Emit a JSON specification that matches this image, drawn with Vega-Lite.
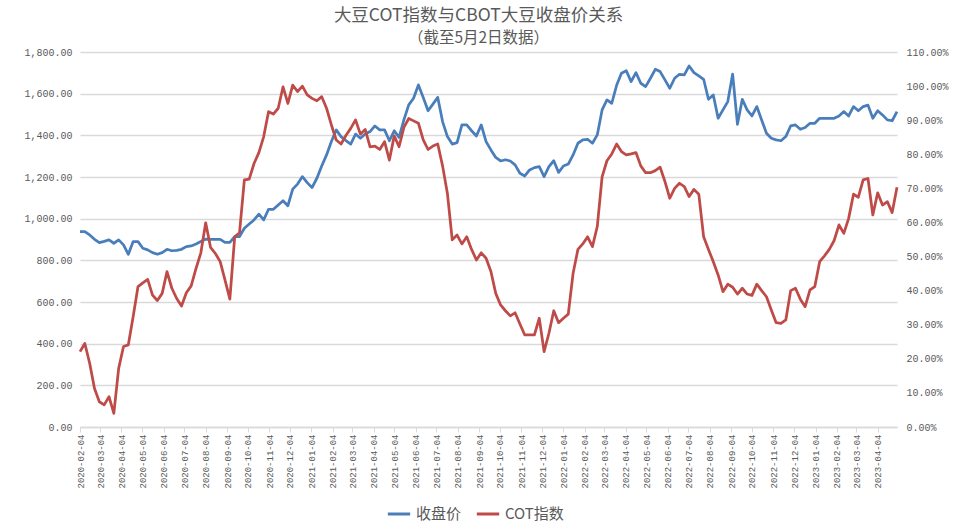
{
  "$schema": "https://vega.github.io/schema/vega-lite/v6.json",
  "width": 817,
  "height": 375,
  "autosize": {"type": "none"},
  "padding": {"left": 80, "top": 52, "right": 58, "bottom": 102},
  "background": "white",
  "title": {
    "text": "大豆COT指数与CBOT大豆收盘价关系",
    "subtitle": "（截至5月2日数据）",
    "anchor": "middle",
    "frame": "group",
    "offset": 1,
    "dx": -10,
    "font": "Noto Sans CJK SC",
    "fontSize": 17.5,
    "lineHeight": 19,
    "fontWeight": "normal",
    "color": "#595959",
    "subtitleFont": "Noto Sans CJK SC",
    "subtitleFontSize": 15.5,
    "subtitleLineHeight": 17,
    "subtitleColor": "#595959",
    "subtitlePadding": 6
  },
  "data": {
    "values": [
      {"date":"2020-02-04","price":938,"cot":0.221},
      {"date":"2020-02-11","price":938,"cot":0.245},
      {"date":"2020-02-18","price":922,"cot":0.187},
      {"date":"2020-02-25","price":901,"cot":0.113},
      {"date":"2020-03-03","price":885,"cot":0.074},
      {"date":"2020-03-10","price":891,"cot":0.065},
      {"date":"2020-03-17","price":898,"cot":0.089},
      {"date":"2020-03-24","price":882,"cot":0.040},
      {"date":"2020-03-31","price":898,"cot":0.172},
      {"date":"2020-04-07","price":874,"cot":0.236},
      {"date":"2020-04-14","price":829,"cot":0.241},
      {"date":"2020-04-21","price":890,"cot":0.324},
      {"date":"2020-04-28","price":890,"cot":0.412},
      {"date":"2020-05-05","price":858,"cot":0.423},
      {"date":"2020-05-12","price":850,"cot":0.433},
      {"date":"2020-05-19","price":837,"cot":0.387},
      {"date":"2020-05-26","price":829,"cot":0.371},
      {"date":"2020-06-02","price":837,"cot":0.392},
      {"date":"2020-06-09","price":853,"cot":0.456},
      {"date":"2020-06-16","price":846,"cot":0.407},
      {"date":"2020-06-23","price":848,"cot":0.377},
      {"date":"2020-06-30","price":853,"cot":0.355},
      {"date":"2020-07-07","price":866,"cot":0.394},
      {"date":"2020-07-14","price":869,"cot":0.414},
      {"date":"2020-07-21","price":878,"cot":0.465},
      {"date":"2020-07-28","price":890,"cot":0.511},
      {"date":"2020-08-04","price":902,"cot":0.599},
      {"date":"2020-08-11","price":901,"cot":0.527},
      {"date":"2020-08-18","price":901,"cot":0.509},
      {"date":"2020-08-25","price":901,"cot":0.485},
      {"date":"2020-09-01","price":886,"cot":0.431},
      {"date":"2020-09-08","price":886,"cot":0.375},
      {"date":"2020-09-15","price":914,"cot":0.558},
      {"date":"2020-09-22","price":914,"cot":0.570},
      {"date":"2020-09-29","price":954,"cot":0.725},
      {"date":"2020-10-06","price":974,"cot":0.727},
      {"date":"2020-10-13","price":994,"cot":0.773},
      {"date":"2020-10-20","price":1022,"cot":0.805},
      {"date":"2020-10-27","price":994,"cot":0.852},
      {"date":"2020-11-03","price":1045,"cot":0.925},
      {"date":"2020-11-10","price":1045,"cot":0.918},
      {"date":"2020-11-17","price":1066,"cot":0.935},
      {"date":"2020-11-24","price":1086,"cot":0.998},
      {"date":"2020-12-01","price":1062,"cot":0.949},
      {"date":"2020-12-08","price":1142,"cot":1.003},
      {"date":"2020-12-15","price":1166,"cot":0.984},
      {"date":"2020-12-22","price":1202,"cot":1.000},
      {"date":"2020-12-29","price":1173,"cot":0.974},
      {"date":"2021-01-05","price":1149,"cot":0.964},
      {"date":"2021-01-12","price":1194,"cot":0.957},
      {"date":"2021-01-19","price":1253,"cot":0.969},
      {"date":"2021-01-26","price":1306,"cot":0.935},
      {"date":"2021-02-02","price":1370,"cot":0.886},
      {"date":"2021-02-09","price":1426,"cot":0.842},
      {"date":"2021-02-16","price":1394,"cot":0.830},
      {"date":"2021-02-23","price":1375,"cot":0.855},
      {"date":"2021-03-02","price":1358,"cot":0.876},
      {"date":"2021-03-09","price":1406,"cot":0.901},
      {"date":"2021-03-16","price":1386,"cot":0.859},
      {"date":"2021-03-23","price":1406,"cot":0.873},
      {"date":"2021-03-30","price":1418,"cot":0.822},
      {"date":"2021-04-06","price":1445,"cot":0.824},
      {"date":"2021-04-13","price":1426,"cot":0.814},
      {"date":"2021-04-20","price":1426,"cot":0.837},
      {"date":"2021-04-27","price":1374,"cot":0.783},
      {"date":"2021-05-04","price":1422,"cot":0.854},
      {"date":"2021-05-11","price":1390,"cot":0.822},
      {"date":"2021-05-18","price":1474,"cot":0.879},
      {"date":"2021-05-25","price":1546,"cot":0.905},
      {"date":"2021-06-01","price":1578,"cot":0.898},
      {"date":"2021-06-08","price":1642,"cot":0.891},
      {"date":"2021-06-15","price":1582,"cot":0.842},
      {"date":"2021-06-22","price":1518,"cot":0.814},
      {"date":"2021-06-29","price":1550,"cot":0.824},
      {"date":"2021-07-06","price":1582,"cot":0.830},
      {"date":"2021-07-13","price":1466,"cot":0.766},
      {"date":"2021-07-20","price":1394,"cot":0.685},
      {"date":"2021-07-27","price":1358,"cot":0.549},
      {"date":"2021-08-03","price":1365,"cot":0.563},
      {"date":"2021-08-10","price":1450,"cot":0.537},
      {"date":"2021-08-17","price":1450,"cot":0.558},
      {"date":"2021-08-24","price":1422,"cot":0.521},
      {"date":"2021-08-31","price":1397,"cot":0.490},
      {"date":"2021-09-07","price":1450,"cot":0.511},
      {"date":"2021-09-14","price":1370,"cot":0.495},
      {"date":"2021-09-21","price":1330,"cot":0.456},
      {"date":"2021-09-28","price":1294,"cot":0.392},
      {"date":"2021-10-05","price":1277,"cot":0.358},
      {"date":"2021-10-12","price":1283,"cot":0.341},
      {"date":"2021-10-19","price":1277,"cot":0.326},
      {"date":"2021-10-26","price":1258,"cot":0.335},
      {"date":"2021-11-02","price":1218,"cot":0.302},
      {"date":"2021-11-09","price":1205,"cot":0.270},
      {"date":"2021-11-16","price":1234,"cot":0.270},
      {"date":"2021-11-23","price":1245,"cot":0.270},
      {"date":"2021-11-30","price":1250,"cot":0.319},
      {"date":"2021-12-07","price":1202,"cot":0.221},
      {"date":"2021-12-14","price":1250,"cot":0.275},
      {"date":"2021-12-21","price":1278,"cot":0.341},
      {"date":"2021-12-28","price":1222,"cot":0.306},
      {"date":"2022-01-04","price":1253,"cot":0.319},
      {"date":"2022-01-11","price":1262,"cot":0.331},
      {"date":"2022-01-18","price":1306,"cot":0.451},
      {"date":"2022-01-25","price":1362,"cot":0.521},
      {"date":"2022-02-01","price":1378,"cot":0.537},
      {"date":"2022-02-08","price":1381,"cot":0.558},
      {"date":"2022-02-15","price":1362,"cot":0.529},
      {"date":"2022-02-22","price":1402,"cot":0.588},
      {"date":"2022-03-01","price":1522,"cot":0.734},
      {"date":"2022-03-08","price":1570,"cot":0.781},
      {"date":"2022-03-15","price":1554,"cot":0.801},
      {"date":"2022-03-22","price":1640,"cot":0.830},
      {"date":"2022-03-29","price":1698,"cot":0.808},
      {"date":"2022-04-05","price":1710,"cot":0.798},
      {"date":"2022-04-12","price":1658,"cot":0.801},
      {"date":"2022-04-19","price":1701,"cot":0.805},
      {"date":"2022-04-26","price":1650,"cot":0.766},
      {"date":"2022-05-03","price":1634,"cot":0.746},
      {"date":"2022-05-10","price":1674,"cot":0.746},
      {"date":"2022-05-17","price":1717,"cot":0.752},
      {"date":"2022-05-24","price":1706,"cot":0.762},
      {"date":"2022-05-31","price":1666,"cot":0.720},
      {"date":"2022-06-07","price":1626,"cot":0.671},
      {"date":"2022-06-14","price":1674,"cot":0.700},
      {"date":"2022-06-21","price":1693,"cot":0.715},
      {"date":"2022-06-28","price":1690,"cot":0.705},
      {"date":"2022-07-05","price":1733,"cot":0.676},
      {"date":"2022-07-12","price":1701,"cot":0.697},
      {"date":"2022-07-19","price":1685,"cot":0.683},
      {"date":"2022-07-26","price":1669,"cot":0.558},
      {"date":"2022-08-02","price":1573,"cot":0.521},
      {"date":"2022-08-09","price":1594,"cot":0.485},
      {"date":"2022-08-16","price":1482,"cot":0.446},
      {"date":"2022-08-23","price":1522,"cot":0.397},
      {"date":"2022-08-30","price":1562,"cot":0.419},
      {"date":"2022-09-06","price":1694,"cot":0.410},
      {"date":"2022-09-13","price":1453,"cot":0.390},
      {"date":"2022-09-20","price":1573,"cot":0.407},
      {"date":"2022-09-27","price":1522,"cot":0.390},
      {"date":"2022-10-04","price":1493,"cot":0.386},
      {"date":"2022-10-11","price":1538,"cot":0.419},
      {"date":"2022-10-18","price":1474,"cot":0.400},
      {"date":"2022-10-25","price":1410,"cot":0.382},
      {"date":"2022-11-01","price":1386,"cot":0.343},
      {"date":"2022-11-08","price":1378,"cot":0.306},
      {"date":"2022-11-15","price":1374,"cot":0.304},
      {"date":"2022-11-22","price":1394,"cot":0.314},
      {"date":"2022-11-29","price":1445,"cot":0.400},
      {"date":"2022-12-06","price":1450,"cot":0.407},
      {"date":"2022-12-13","price":1429,"cot":0.375},
      {"date":"2022-12-20","price":1438,"cot":0.353},
      {"date":"2022-12-27","price":1458,"cot":0.402},
      {"date":"2023-01-03","price":1458,"cot":0.412},
      {"date":"2023-01-10","price":1482,"cot":0.485},
      {"date":"2023-01-17","price":1482,"cot":0.502},
      {"date":"2023-01-24","price":1482,"cot":0.521},
      {"date":"2023-01-31","price":1482,"cot":0.547},
      {"date":"2023-02-07","price":1493,"cot":0.593},
      {"date":"2023-02-14","price":1514,"cot":0.568},
      {"date":"2023-02-21","price":1493,"cot":0.612},
      {"date":"2023-02-28","price":1538,"cot":0.683},
      {"date":"2023-03-07","price":1518,"cot":0.674},
      {"date":"2023-03-14","price":1538,"cot":0.725},
      {"date":"2023-03-21","price":1545,"cot":0.729},
      {"date":"2023-03-28","price":1482,"cot":0.622},
      {"date":"2023-04-04","price":1518,"cot":0.687},
      {"date":"2023-04-11","price":1498,"cot":0.651},
      {"date":"2023-04-18","price":1474,"cot":0.661},
      {"date":"2023-04-25","price":1470,"cot":0.629},
      {"date":"2023-05-02","price":1514,"cot":0.703}
    ]
  },
  "encoding": {
    "x": {
      "field": "date",
      "type": "temporal",
      "title": null,
      "scale": {
        "type": "utc",
        "nice": false,
        "domain": [
          {"year": 2020, "month": 2, "date": 4, "utc": true},
          {"year": 2023, "month": 5, "date": 2, "utc": true}
        ]
      },
      "axis": {
        "labelExpr": "utcFormat(datum.value, '%Y-%m-%d')",
        "labelAngle": -90,
        "labelFont": "Liberation Mono",
        "labelFontSize": 9,
        "labelColor": "#595959",
        "labelPadding": 2,
        "labelOverlap": false,
        "labelFlush": false,
        "labelBound": false,
        "grid": false,
        "domainColor": "#d9d9d9",
        "domainWidth": 1.5,
        "tickColor": "#d9d9d9",
        "tickWidth": 1,
        "tickSize": 5,
        "values": [
          {"year": 2020, "month": 2, "date": 4, "utc": true},
          {"year": 2020, "month": 3, "date": 4, "utc": true},
          {"year": 2020, "month": 4, "date": 4, "utc": true},
          {"year": 2020, "month": 5, "date": 4, "utc": true},
          {"year": 2020, "month": 6, "date": 4, "utc": true},
          {"year": 2020, "month": 7, "date": 4, "utc": true},
          {"year": 2020, "month": 8, "date": 4, "utc": true},
          {"year": 2020, "month": 9, "date": 4, "utc": true},
          {"year": 2020, "month": 10, "date": 4, "utc": true},
          {"year": 2020, "month": 11, "date": 4, "utc": true},
          {"year": 2020, "month": 12, "date": 4, "utc": true},
          {"year": 2021, "month": 1, "date": 4, "utc": true},
          {"year": 2021, "month": 2, "date": 4, "utc": true},
          {"year": 2021, "month": 3, "date": 4, "utc": true},
          {"year": 2021, "month": 4, "date": 4, "utc": true},
          {"year": 2021, "month": 5, "date": 4, "utc": true},
          {"year": 2021, "month": 6, "date": 4, "utc": true},
          {"year": 2021, "month": 7, "date": 4, "utc": true},
          {"year": 2021, "month": 8, "date": 4, "utc": true},
          {"year": 2021, "month": 9, "date": 4, "utc": true},
          {"year": 2021, "month": 10, "date": 4, "utc": true},
          {"year": 2021, "month": 11, "date": 4, "utc": true},
          {"year": 2021, "month": 12, "date": 4, "utc": true},
          {"year": 2022, "month": 1, "date": 4, "utc": true},
          {"year": 2022, "month": 2, "date": 4, "utc": true},
          {"year": 2022, "month": 3, "date": 4, "utc": true},
          {"year": 2022, "month": 4, "date": 4, "utc": true},
          {"year": 2022, "month": 5, "date": 4, "utc": true},
          {"year": 2022, "month": 6, "date": 4, "utc": true},
          {"year": 2022, "month": 7, "date": 4, "utc": true},
          {"year": 2022, "month": 8, "date": 4, "utc": true},
          {"year": 2022, "month": 9, "date": 4, "utc": true},
          {"year": 2022, "month": 10, "date": 4, "utc": true},
          {"year": 2022, "month": 11, "date": 4, "utc": true},
          {"year": 2022, "month": 12, "date": 4, "utc": true},
          {"year": 2023, "month": 1, "date": 4, "utc": true},
          {"year": 2023, "month": 2, "date": 4, "utc": true},
          {"year": 2023, "month": 3, "date": 4, "utc": true},
          {"year": 2023, "month": 4, "date": 4, "utc": true}
        ]
      }
    }
  },
  "layer": [
    {
      "mark": {"type": "line", "strokeWidth": 2.75, "strokeJoin": "round"},
      "encoding": {
        "y": {
          "field": "price",
          "type": "quantitative",
          "title": null,
          "scale": {"domain": [0, 1800], "nice": false, "zero": true},
          "axis": {
            "orient": "left",
            "values": [0, 200, 400, 600, 800, 1000, 1200, 1400, 1600, 1800],
            "format": ",.2f",
            "labelFont": "Liberation Mono",
            "labelFontSize": 10,
            "labelColor": "#595959",
            "labelPadding": 8,
            "domain": false,
            "ticks": false,
            "grid": true,
            "gridColor": "#d9d9d9",
            "gridWidth": 1.5
          }
        },
        "color": {
          "datum": "收盘价",
          "type": "nominal",
          "scale": {"domain": ["收盘价", "COT指数"], "range": ["#4a7ebb", "#be4b48"]},
          "legend": {
            "title": null,
            "orient": "none",
            "legendX": 306,
            "legendY": 449,
            "direction": "horizontal",
            "symbolType": "stroke",
            "symbolStrokeWidth": 3,
            "symbolSize": 500,
            "labelFont": "Noto Sans CJK SC",
            "labelFontSize": 15,
            "labelColor": "#595959",
            "columnPadding": 8
          }
        }
      }
    },
    {
      "mark": {"type": "line", "strokeWidth": 2.75, "strokeJoin": "round"},
      "encoding": {
        "y": {
          "field": "cot",
          "type": "quantitative",
          "title": null,
          "scale": {"domain": [0, 1.1], "nice": false, "zero": true},
          "axis": {
            "orient": "right",
            "values": [0, 0.1, 0.2, 0.3, 0.4, 0.5, 0.6, 0.7, 0.8, 0.9, 1.0, 1.1],
            "format": ".2%",
            "labelFont": "Liberation Mono",
            "labelFontSize": 10,
            "labelColor": "#595959",
            "labelPadding": 9,
            "domain": false,
            "ticks": false,
            "grid": false
          }
        },
        "color": {"datum": "COT指数", "type": "nominal"}
      }
    }
  ],
  "resolve": {"scale": {"y": "independent"}, "axis": {"y": "independent"}},
  "config": {"view": {"stroke": null}}
}
